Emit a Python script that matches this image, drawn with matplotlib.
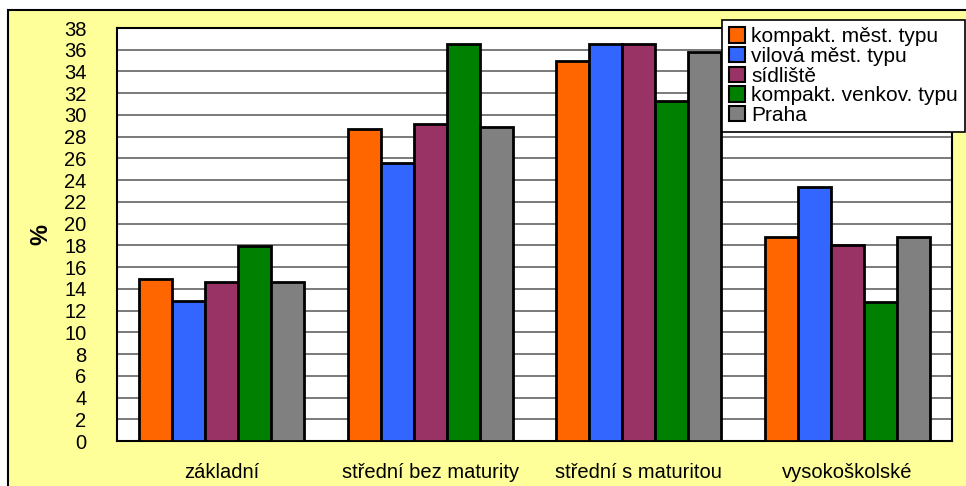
import numpy as np
import matplotlib.pyplot as plt
from matplotlib.patches import Rectangle

plt.rcParams['font.family'] = ['Liberation Sans', 'DejaVu Sans']

kategorie = ['základní', 'střední bez maturity', 'střední s maturitou', 'vysokoškolské']
serie = ['kompakt. měst. typu', 'vilová měst. typu', 'sídliště',
         'kompakt. venkov. typu', 'Praha']
kompakt_mest = [14.9, 28.7, 35.0, 18.8]
vilova_mest = [12.9, 25.6, 36.5, 23.4]
sidliste = [14.6, 29.2, 36.5, 18.0]
kompakt_venkov = [17.9, 36.5, 31.3, 12.8]
praha = [14.6, 28.9, 35.8, 18.8]
barvy = ['#FF6600', '#3366FF', '#993366', '#008000', '#808080']

hodnoty = [kompakt_mest, vilova_mest, sidliste, kompakt_venkov, praha]

fig = plt.figure(figsize=(9.66, 4.86), dpi=100, facecolor='white')
# zluty ramecek grafu (pod osami)
fig.add_artist(Rectangle((8 / 966, -0.1), 1.0, 1 - 10 / 486 + 0.1,
                         transform=fig.transFigure, facecolor='#FFFF99',
                         edgecolor='black', linewidth=1.5, zorder=-5))

ax = fig.add_axes([117 / 966, 1 - 441 / 486, (952 - 117) / 966, (441 - 28) / 486])
ax.set_facecolor('white')

x = np.arange(len(kategorie))
sirka = 0.158
for i, (h, b) in enumerate(zip(hodnoty, barvy)):
    ax.bar(x + (i - 2) * sirka, h, sirka, color=b, edgecolor='black',
           linewidth=2, label=serie[i], zorder=3)

ax.set_xlim(-0.5, 3.5)
ax.set_ylim(0, 38)
ax.set_yticks(range(0, 39, 2))
ax.set_xticks(x)
ax.set_xticklabels(kategorie)
ax.tick_params(axis='both', length=0, labelsize=14.5)
ax.tick_params(axis='x', pad=16)
ax.tick_params(axis='y', pad=22)
ax.yaxis.grid(True, color='#707070', linewidth=1.3, zorder=0)
ax.set_axisbelow(True)
for s in ax.spines.values():
    s.set_linewidth(1.5)
    s.set_color('black')
ax.set_ylabel('%', fontsize=17, fontweight='bold', labelpad=8)

leg = fig.legend(loc='upper left', bbox_to_anchor=(722 / 966, 1 - 20 / 486),
                 fontsize=15, frameon=True, fancybox=False, handlelength=0.75,
                 handleheight=0.75, handletextpad=0.3, labelspacing=0.03,
                 borderpad=0.35, borderaxespad=0)
leg.get_frame().set_edgecolor('black')
leg.get_frame().set_linewidth(1.2)
leg.get_frame().set_alpha(1)
for p in leg.get_patches():
    p.set_linewidth(1.5)

fig.savefig('out.png', dpi=100, facecolor=fig.get_facecolor())
